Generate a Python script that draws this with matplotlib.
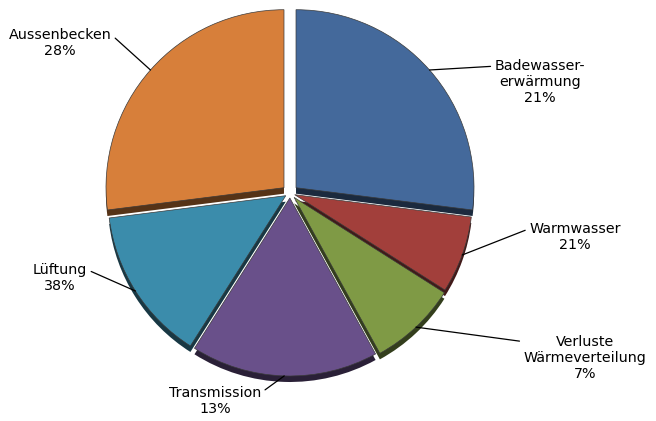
import numpy as np
import matplotlib.pyplot as plt
import matplotlib.colors as mcolors

# slice sizes and the labels as printed
names = ["Badewasser-\nerwärmung", "Warmwasser", "Verluste\nWärmeverteilung",
         "Transmission", "Lüftung", "Aussenbecken"]
label_pct = [21, 21, 7, 13, 38, 28]
shares = [27, 7, 8, 17, 14, 27]
colors = ["#44699b", "#a23f3b", "#7f9a45", "#69508a", "#3b8cab", "#d77f3a"]

# label layout (pixel coords of the 656x421 canvas) and where the leader leaves the text
text_pos = [(540, 82), (575, 237), (585, 358), (215, 401), (60, 278), (60, 43)]
rel_pos = [(0, 0.85), (0, 0.78), (0, 0.86), (1, 0.78), (1, 0.78), (1, 0.78)]

W, H = 656, 421
fig = plt.figure(figsize=(W / 100, H / 100), dpi=100)
ax = fig.add_axes([0, 0, 1, 1])
ax.axis("off")

cx, cy, R = 290, H - 193, 178
explode = [8, 5, 6, 5, 5, 8]  # absolute offsets (same units as radius)

# darker copy underneath, shifted down -> gives the slab thickness
dark = [tuple(np.array(mcolors.to_rgb(c)) * 0.4) for c in colors]
ax.pie(shares, colors=dark, startangle=90, counterclock=False, explode=explode,
       radius=R, center=(cx, cy - 6), wedgeprops=dict(linewidth=0))

wedges, _ = ax.pie(shares, colors=colors, startangle=90, counterclock=False,
                   explode=explode, radius=R, center=(cx, cy),
                   wedgeprops=dict(linewidth=0.5, edgecolor="#3a3a3a"))
ax.set_xlim(0, W)
ax.set_ylim(0, H)
ax.set_aspect("equal")

for w, name, pct, tp, rp in zip(wedges, names, label_pct, text_pos, rel_pos):
    mid = np.radians((w.theta1 + w.theta2) / 2)
    x0, y0 = w.center
    anchor = (x0 + w.r * np.cos(mid), y0 + w.r * np.sin(mid))
    ax.annotate(f"{name}\n{pct}%", xy=anchor, xytext=(tp[0], H - tp[1]),
                ha="center", va="center", multialignment="center",
                fontsize=10.3, linespacing=1.15,
                arrowprops=dict(arrowstyle="-", color="black", lw=0.9,
                                shrinkA=1, shrinkB=0, relpos=rp))

fig.savefig("out.png", dpi=100)
